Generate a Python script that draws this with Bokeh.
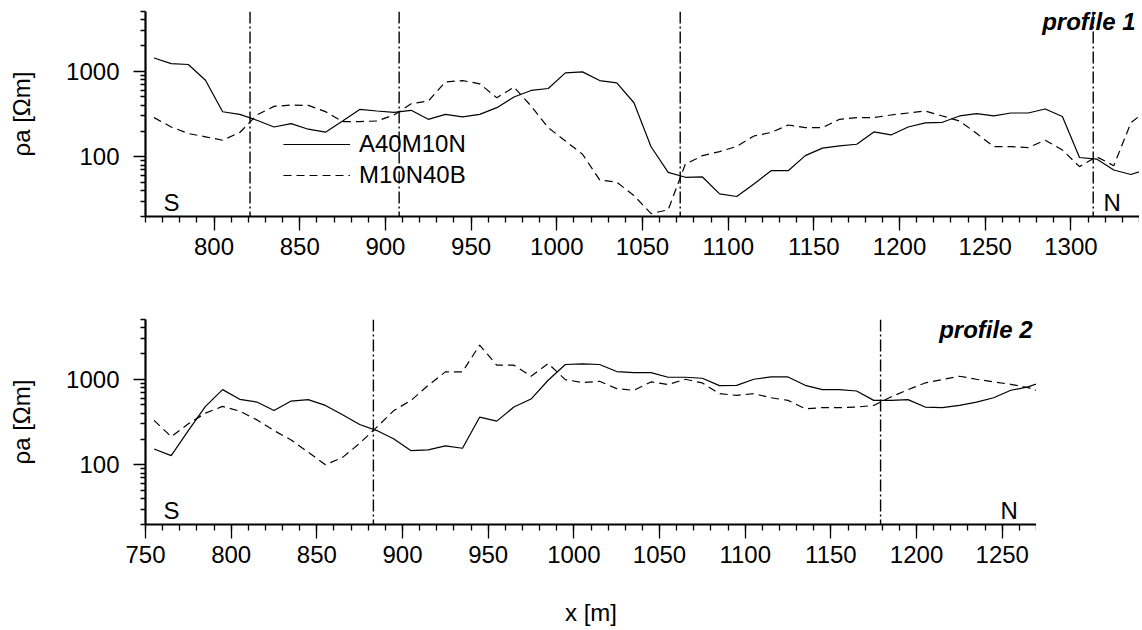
from bokeh.plotting import figure
from bokeh.layouts import column
from bokeh.models import (Range1d, FixedTicker, SingleIntervalTicker, PrintfTickFormatter,
                          Span, Label, Legend, LegendItem)
from bokeh.embed import file_html
from bokeh.resources import INLINE

FONT = "Liberation Sans"
FS = "24px"

# ---------------- data ----------------
series_names = ["A40M10N", "M10N40B"]

x_p1 = [765, 775, 785, 795, 805, 815, 825, 835, 845, 855, 865, 875, 885, 895, 905,
        915, 925, 935, 945, 955, 965, 975, 985, 995, 1005, 1015, 1025, 1035, 1045,
        1055, 1065, 1075, 1085, 1095, 1105, 1115, 1125, 1135, 1145, 1155, 1165, 1175,
        1185, 1195, 1205, 1215, 1225, 1235, 1245, 1255, 1265, 1275, 1285, 1295, 1305,
        1315, 1325, 1335, 1345]
a40_p1 = [1430, 1230, 1200, 785, 336, 313, 267, 223, 244, 210, 194, 262, 358, 343, 331,
          349, 274, 313, 292, 313, 375, 499, 596, 628, 957, 983, 778, 731, 428,
          131, 65.7, 57.5, 58, 36.8, 34.3, 48, 68.7, 68.7, 103, 126, 134, 140,
          195, 180, 223, 249, 253, 300, 319, 300, 325, 325, 362, 296, 98,
          94, 70, 62, 72]
m10_p1 = [287, 223, 187, 171, 156, 192, 308, 388, 402, 399, 337, 258, 258, 262, 308,
          417, 448, 751, 778, 713, 490, 652, 392, 219, 153, 107, 53.6, 50.4, 35.2,
          21.6, 24, 82, 103, 115, 132, 175, 192, 235, 219, 219, 274, 287,
          287, 308, 325, 343, 300, 262, 187, 131, 131, 128, 156, 120, 76.6,
          100, 78.5, 250, 360]

x_p2 = [755, 765, 775, 785, 795, 805, 815, 825, 835, 845, 855, 865, 875, 885, 895,
        905, 915, 925, 935, 945, 955, 965, 975, 985, 995, 1005, 1015, 1025, 1035,
        1045, 1055, 1065, 1075, 1085, 1095, 1105, 1115, 1125, 1135, 1145, 1155, 1165,
        1175, 1185, 1195, 1205, 1215, 1225, 1235, 1245, 1255, 1265, 1275]
a40_p2 = [153, 128, 251, 481, 756, 582, 541, 432, 556, 577, 494, 384, 296, 251, 200,
          146, 149, 166, 156, 360, 324, 473, 587, 973, 1488, 1515, 1488, 1231, 1197,
          1197, 1056, 1056, 1028, 842, 849, 1000, 1065, 1065, 849, 756, 756, 729,
          566, 566, 577, 473, 465, 494, 541, 608, 743, 813, 950]
m10_p2 = [330, 213, 301, 402, 481, 424, 335, 251, 195, 140, 100, 122, 178, 275, 432,
          566, 849, 1219, 1219, 2512, 1462, 1462, 1085, 1528, 991, 914, 947, 776, 742,
          930, 866, 1000, 905, 678, 648, 678, 608, 566, 452, 465, 465, 473,
          494, 620, 756, 905, 991, 1085, 1000, 930, 873, 798, 690]

bounds_p1 = [821, 908, 1072, 1313]
bounds_p2 = [883, 1179]

y_major = [100, 1000]
y_minor = [20, 30, 40, 50, 60, 70, 80, 90, 200, 300, 400, 500, 600, 700, 800, 900,
           2000, 3000, 4000, 5000]
x_range_p1 = (760, 1340)
x_range_p2 = (750, 1270)
y_range_all = (20, 5000)


def style_axes(p):
    p.outline_line_color = None
    p.xgrid.visible = False
    p.ygrid.visible = False
    xa = p.xaxis[0]
    xa.ticker = SingleIntervalTicker(interval=50, num_minor_ticks=5)
    xa.axis_line_width = 2.2
    xa.axis_line_color = "black"
    xa.major_tick_out = 14
    xa.major_tick_in = 0
    xa.minor_tick_out = 6
    xa.minor_tick_in = 0
    xa.major_tick_line_width = 1.3
    xa.minor_tick_line_width = 1.3
    xa.major_tick_line_color = "black"
    xa.minor_tick_line_color = "black"
    xa.major_label_text_font = FONT
    xa.major_label_text_font_size = FS
    xa.major_label_text_color = "black"
    xa.major_label_standoff = 7
    ya = p.yaxis[0]
    ya.ticker = FixedTicker(ticks=y_major, minor_ticks=y_minor)
    ya.formatter = PrintfTickFormatter(format="%d")
    ya.axis_line_width = 2.2
    ya.axis_line_color = "black"
    ya.major_tick_out = 12
    ya.major_tick_in = 0
    ya.minor_tick_out = 5
    ya.minor_tick_in = 0
    ya.major_tick_line_width = 1.3
    ya.minor_tick_line_width = 1.3
    ya.major_tick_line_color = "black"
    ya.minor_tick_line_color = "black"
    ya.major_label_text_font = FONT
    ya.major_label_text_font_size = FS
    ya.major_label_text_color = "black"
    ya.major_label_standoff = 14
    ya.axis_label = "ρa [Ωm]"
    ya.axis_label_text_font = FONT
    ya.axis_label_text_font_size = FS
    ya.axis_label_text_font_style = "normal"
    ya.axis_label_text_color = "black"
    ya.axis_label_standoff = 28


def make_panel(xs, s1, s2, xr, bounds, title, fw, top, bottom, xlabel, with_legend,
               n_x):
    p = figure(frame_width=fw, frame_height=205, y_axis_type="log",
               x_range=Range1d(*xr), y_range=Range1d(*y_range_all),
               min_border_left=145, min_border_right=0,
               min_border_top=top, min_border_bottom=bottom,
               output_backend="svg", toolbar_location=None,
               background_fill_color="white", border_fill_color="white")
    style_axes(p)
    if xlabel:
        xa = p.xaxis[0]
        xa.axis_label = xlabel
        xa.axis_label_text_font = FONT
        xa.axis_label_text_font_size = FS
        xa.axis_label_text_font_style = "normal"
        xa.axis_label_text_color = "black"
        xa.axis_label_standoff = 33
    r1 = p.line(xs, s1, line_color="black", line_width=1.2)
    r2 = p.line(xs, s2, line_color="black", line_width=1.2, line_dash="8 5")
    for b in bounds:
        p.add_layout(Span(location=b, dimension="height", line_color="black",
                          line_width=1.4, line_dash="12 3 2 3"))
    if with_legend:
        lg = Legend(items=[LegendItem(label=series_names[0], renderers=[r1]),
                           LegendItem(label=series_names[1], renderers=[r2])],
                    location=(138, 27), glyph_width=67, glyph_height=26,
                    label_standoff=9, spacing=3, padding=0, margin=0,
                    background_fill_alpha=0, border_line_alpha=0,
                    label_text_font=FONT, label_text_font_size=FS,
                    label_text_color="black")
        p.add_layout(lg, "center")
    p.add_layout(Label(x=18, y=14, x_units="screen", y_units="screen", text="S",
                       text_font=FONT, text_font_size=FS, text_color="black",
                       text_baseline="alphabetic", text_align="left"))
    p.add_layout(Label(x=n_x, y=14, x_units="screen", y_units="screen", text="N",
                       text_font=FONT, text_font_size=FS, text_color="black",
                       text_baseline="alphabetic", text_align="left"))
    p.add_layout(Label(x=fw - 4, y=195, x_units="screen", y_units="screen", text=title,
                       text_font=FONT, text_font_size=FS, text_color="black",
                       text_font_style="bold italic",
                       text_baseline="alphabetic", text_align="right"))
    return p


p1 = make_panel(x_p1, a40_p1, m10_p1, x_range_p1, bounds_p1, "profile 1", 994, 11, 64,
                None, True, 958)
p2 = make_panel(x_p2, a40_p2, m10_p2, x_range_p2, bounds_p2, "profile 2", 891, 39, 104,
                "x [m]", False, 855)

layout = column(p1, p2, spacing=0)

open("out.html", "w").write(file_html(layout, INLINE))
